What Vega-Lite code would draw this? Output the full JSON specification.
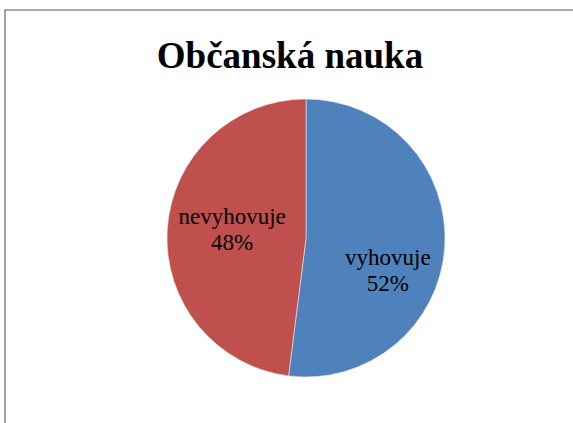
{
  "$schema": "https://vega.github.io/schema/vega-lite/v6.json",
  "autosize": {"type": "none"},
  "padding": {"left": 5, "top": 10, "right": 0, "bottom": 0},
  "width": 602,
  "height": 456,
  "background": "white",
  "view": {"stroke": "#8a8a8a", "strokeWidth": 1.6, "fill": "white"},
  "config": {
    "font": "Liberation Serif"
  },
  "title": {
    "text": "Občanská nauka",
    "font": "Liberation Serif",
    "fontSize": 37,
    "fontWeight": "bold",
    "color": "black",
    "anchor": "middle",
    "baseline": "alphabetic",
    "offset": 0,
    "dy": 95,
    "dx": -16
  },
  "data": {
    "values": [
      {"category": "vyhovuje", "value": 0.52},
      {"category": "nevyhovuje", "value": 0.48}
    ]
  },
  "encoding": {
    "theta": {"field": "value", "type": "quantitative", "stack": true},
    "order": {"field": "category", "sort": "descending"}
  },
  "layer": [
    {
      "mark": {"type": "arc", "outerRadius": 139, "stroke": "#e8e8e8", "strokeWidth": 0.6},
      "encoding": {
        "color": {
          "field": "category",
          "type": "nominal",
          "scale": {"domain": ["vyhovuje", "nevyhovuje"], "range": ["#4F81BD", "#C0504D"]},
          "legend": null
        }
      }
    },
    {
      "mark": {"type": "text", "radius": 80, "font": "Times New Roman, Liberation Serif, serif", "fontSize": 23, "fill": "black", "baseline": "middle", "dx": 2, "dy": 15},
      "encoding": {"text": {"condition": {"test": "datum.category == 'vyhovuje'", "field": "category"}, "value": ""}}
    },
    {
      "mark": {"type": "text", "radius": 80, "font": "Times New Roman, Liberation Serif, serif", "fontSize": 23, "fill": "black", "baseline": "middle", "dx": 2, "dy": 41},
      "encoding": {"text": {"condition": {"test": "datum.category == 'vyhovuje'", "field": "value", "format": ".0%"}, "value": ""}}
    },
    {
      "mark": {"type": "text", "radius": 80, "font": "Times New Roman, Liberation Serif, serif", "fontSize": 23, "fill": "black", "baseline": "middle", "dx": 6, "dy": -16},
      "encoding": {"text": {"condition": {"test": "datum.category == 'nevyhovuje'", "field": "category"}, "value": ""}}
    },
    {
      "mark": {"type": "text", "radius": 80, "font": "Times New Roman, Liberation Serif, serif", "fontSize": 23, "fill": "black", "baseline": "middle", "dx": 6, "dy": 10},
      "encoding": {"text": {"condition": {"test": "datum.category == 'nevyhovuje'", "field": "value", "format": ".0%"}, "value": ""}}
    }
  ]
}
